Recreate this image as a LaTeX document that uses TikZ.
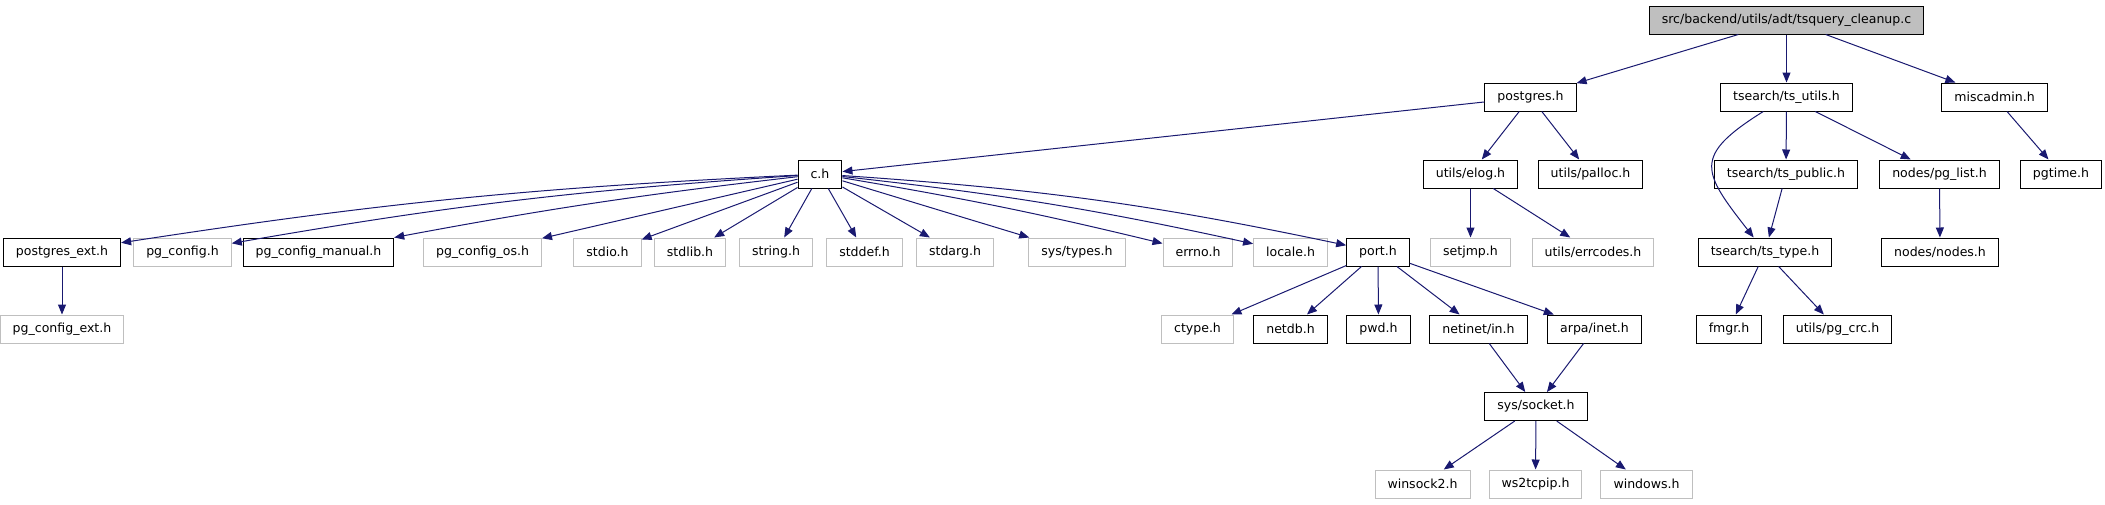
\documentclass[tikz,border=0pt]{standalone}
\usepackage{fontspec}
\setmainfont{DejaVu Sans}
\usetikzlibrary{arrows.meta}

\definecolor{edgeblue}{RGB}{25,25,112}
\definecolor{sysgray}{RGB}{191,191,191}

\tikzset{
	hdr/.style={draw=black, fill=white, line width=0.75pt, minimum height=21pt,
		inner xsep=9.4pt, inner ysep=0pt, font=\fontsize{9.4}{11}\selectfont},
	syshdr/.style={hdr, draw=sysgray},
	srcfile/.style={hdr, fill=sysgray},
	dep/.style={draw=edgeblue, line width=0.75pt,
		-{Triangle[length=7.5pt,width=6pt]}},
}

\begin{document}
\begin{tikzpicture}[x=0.75pt, y=-0.75pt]
\useasboundingbox (0,0) rectangle (2105,504);

% SOURCE FILE
\node[srcfile] (root) at (1786.5,20) {src/backend/utils/adt/tsquery\_cleanup.c};

% FIRST LEVEL
\node[hdr] (postgres) at (1530.5,97) {postgres.h};
\node[hdr] (tsutils) at (1786.5,97) {tsearch/ts\_utils.h};
\node[hdr] (miscadmin) at (1994.5,97) {miscadmin.h};

% SECOND LEVEL
\node[hdr] (c) at (820,174) {c.h};
\node[hdr] (elog) at (1470.5,174) {utils/elog.h};
\node[hdr] (palloc) at (1590.5,174) {utils/palloc.h};
\node[hdr] (tspublic) at (1786,174) {tsearch/ts\_public.h};
\node[hdr] (pglist) at (1939.5,174) {nodes/pg\_list.h};
\node[hdr] (pgtime) at (2061,174) {pgtime.h};

% THIRD LEVEL
\node[hdr] (pgext) at (62,252) {postgres\_ext.h};
\node[syshdr] (pgconfig) at (182.5,252) {pg\_config.h};
\node[hdr] (pgmanual) at (318.5,252) {pg\_config\_manual.h};
\node[syshdr] (pgos) at (482.5,252) {pg\_config\_os.h};
\node[syshdr] (stdio) at (607.5,252) {stdio.h};
\node[syshdr] (stdlib) at (690,252) {stdlib.h};
\node[syshdr] (string) at (776,252) {string.h};
\node[syshdr] (stddef) at (864.5,252) {stddef.h};
\node[syshdr] (stdarg) at (955,252) {stdarg.h};
\node[syshdr] (systypes) at (1077,252) {sys/types.h};
\node[syshdr] (errno) at (1198,252) {errno.h};
\node[syshdr] (locale) at (1290.5,252) {locale.h};
\node[hdr] (port) at (1378,252) {port.h};
\node[syshdr] (setjmp) at (1470.5,252) {setjmp.h};
\node[syshdr] (errcodes) at (1593,252) {utils/errcodes.h};
\node[hdr] (tstype) at (1765,252) {tsearch/ts\_type.h};
\node[hdr] (nodes) at (1940,252) {nodes/nodes.h};

% FOURTH LEVEL
\node[syshdr] (pgcfgext) at (62,329) {pg\_config\_ext.h};
\node[syshdr] (ctype) at (1197.5,329) {ctype.h};
\node[hdr] (netdb) at (1290.5,329) {netdb.h};
\node[hdr] (pwd) at (1378.5,329) {pwd.h};
\node[hdr] (netinet) at (1478.5,329) {netinet/in.h};
\node[hdr] (arpa) at (1594.5,329) {arpa/inet.h};
\node[hdr] (fmgr) at (1729,329) {fmgr.h};
\node[hdr] (pgcrc) at (1837.5,329) {utils/pg\_crc.h};

% SOCKETS
\node[hdr] (socket) at (1536,406.5) {sys/socket.h};
\node[syshdr] (winsock) at (1422.5,484) {winsock2.h};
\node[syshdr] (wstcpip) at (1535.5,484) {ws2tcpip.h};
\node[syshdr] (windows) at (1646.5,484) {windows.h};

% INCLUDES
\draw[dep] (root) -- (postgres);
\draw[dep] (root) -- (tsutils);
\draw[dep] (root) -- (miscadmin);

\draw[dep] (postgres) -- (c);
\draw[dep] (postgres) -- (elog);
\draw[dep] (postgres) -- (palloc);

\draw[dep] (c) to[bend right=3] (pgext);
\draw[dep] (c) to[bend right=3] (pgconfig);
\draw[dep] (c) to[bend right=2] (pgmanual);
\foreach \h in {pgos,stdio,stdlib,string,stddef,stdarg,systypes}
	\draw[dep] (c) -- (\h);
\draw[dep] (c) to[bend left=2] (errno);
\draw[dep] (c) to[bend left=3] (locale);
\draw[dep] (c) to[bend left=4] (port);

\draw[dep] (pgext) -- (pgcfgext);
\draw[dep] (elog) -- (setjmp);
\draw[dep] (elog) -- (errcodes);

\foreach \h in {ctype,netdb,pwd,netinet,arpa}
	\draw[dep] (port) -- (\h);
\draw[dep] (netinet) -- (socket);
\draw[dep] (arpa) -- (socket);
\foreach \h in {winsock,wstcpip,windows}
	\draw[dep] (socket) -- (\h);

\draw[dep] (tsutils) to[out=212, in=128, looseness=1.7] (tstype);
\draw[dep] (tsutils) -- (tspublic);
\draw[dep] (tsutils) -- (pglist);
\draw[dep] (tspublic) -- (tstype);
\draw[dep] (tstype) -- (fmgr);
\draw[dep] (tstype) -- (pgcrc);
\draw[dep] (pglist) -- (nodes);
\draw[dep] (miscadmin) -- (pgtime);

\end{tikzpicture}
\end{document}
